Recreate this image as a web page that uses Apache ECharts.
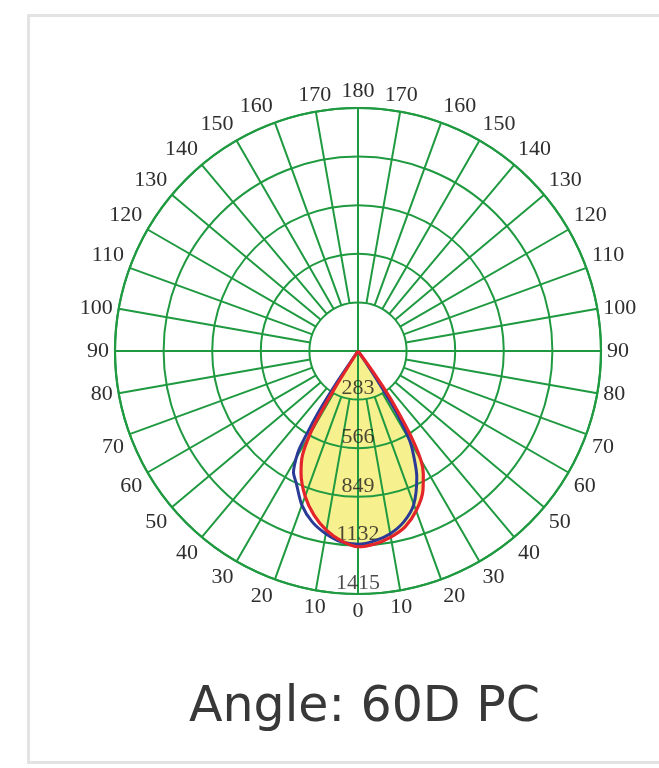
<!DOCTYPE html>
<html>
<head>
<meta charset="utf-8">
<script src="https://cdn.jsdelivr.net/npm/echarts@6/dist/echarts.min.js"></script>
<style>
html,body{margin:0;padding:0;background:#fff;overflow:hidden;}
#frame{position:absolute;left:27px;top:14px;width:720px;height:750px;border:3px solid #e3e3e3;box-sizing:border-box;}
#chart{position:absolute;left:0;top:0;width:659px;height:768px;}
</style>
</head>
<body>
<div id="frame"></div>
<div id="chart"></div>
<script>
// Tick values of the intensity rings (cd)
const ringValues = [283, 566, 849, 1132, 1415];
// Red curve (C0-C180): angle in degrees (negative = right of nadir), intensity in cd
const redAngles = [-37, -36, -35, -34, -32, -30, -28, -25, -20, -15, -10, -5, 0, 5, 10, 15, 20, 25, 28, 30, 31, 32, 33];
const redValues = [0, 120, 250, 370, 570, 730, 810, 895, 990, 1060, 1100, 1128, 1140, 1110, 1060, 990, 900, 785, 690, 560, 430, 250, 0];
// Blue curve (C90-C270)
const blueAngles = [-35, -34, -33, -32, -30, -28, -25, -20, -15, -10, -5, 0, 5, 10, 15, 20, 25, 28, 30, 31, 32, 33, 34, 35];
const blueValues = [0, 100, 250, 420, 600, 690, 810, 950, 1030, 1080, 1110, 1125, 1115, 1080, 1030, 955, 850, 800, 720, 660, 530, 400, 220, 0];
const titleText = 'Angle: 60D PC';

const toAxisAngle = a => (a < 0 ? 360 + a : a);
const redData = redAngles.map((a, i) => [redValues[i], toAxisAngle(a)]);
const blueData = blueAngles.map((a, i) => [blueValues[i], toAxisAngle(a)]);
const labelData = ringValues.map(v => [v, 0]);

const GREEN = '#1f9a40';
const CENTER = [358, 351];
const R = 243;
const INNER = R * ringValues[0] / ringValues[ringValues.length - 1];
const serif = '"Liberation Serif", "DejaVu Serif", serif';

const chart = echarts.init(document.getElementById('chart'), null, {renderer: 'canvas'});
chart.setOption({
  backgroundColor: 'transparent',
  animation: false,
  title: {
    text: titleText,
    left: 184, top: 679,
    textStyle: {fontFamily: '"DejaVu Sans", sans-serif', fontSize: 49, fontWeight: 'normal', color: '#383838'}
  },
  polar: [
    {center: CENTER, radius: [0, R]},
    {center: CENTER, radius: [INNER, R]}
  ],
  angleAxis: [
    {
      polarIndex: 0, type: 'value', min: 0, max: 360, interval: 90,
      startAngle: 270, clockwise: true,
      axisLine: {show: true, lineStyle: {color: GREEN, width: 2.2}},
      axisTick: {show: false}, axisLabel: {show: false},
      splitLine: {show: true, lineStyle: {color: GREEN, width: 2}}
    },
    {
      polarIndex: 1, type: 'value', min: 0, max: 360, interval: 10,
      startAngle: 270, clockwise: true,
      axisLine: {show: false}, axisTick: {show: false},
      axisLabel: {
        show: true, margin: 6, fontFamily: serif, fontSize: 22, color: '#2e2e2e',
        formatter: v => (v <= 180 ? String(v) : String(360 - v))
      },
      splitLine: {show: true, lineStyle: {color: GREEN, width: 2}}
    }
  ],
  radiusAxis: [
    {
      polarIndex: 0, type: 'value', min: 0, max: ringValues[ringValues.length - 1], interval: ringValues[0],
      axisLine: {show: false}, axisTick: {show: false}, axisLabel: {show: false},
      splitLine: {show: true, lineStyle: {color: GREEN, width: 2}}
    },
    {
      polarIndex: 1, type: 'value', min: 0, max: 1, show: false,
      axisLine: {show: false}, axisTick: {show: false}, axisLabel: {show: false}, splitLine: {show: false}
    }
  ],
  series: [
    {
      type: 'line', coordinateSystem: 'polar', polarIndex: 0, z: -1,
      data: redData, smooth: 0.3, symbol: 'none',
      lineStyle: {width: 0, opacity: 0},
      areaStyle: {color: '#f7f08e', opacity: 1}
    },
    {
      type: 'line', coordinateSystem: 'polar', polarIndex: 0,
      data: blueData, smooth: 0.3, symbol: 'none',
      lineStyle: {color: '#2b3a96', width: 3}
    },
    {
      type: 'line', coordinateSystem: 'polar', polarIndex: 0,
      data: redData, smooth: 0.3, symbol: 'none',
      lineStyle: {color: '#e3252b', width: 3.2}
    },
    {
      type: 'scatter', coordinateSystem: 'polar', polarIndex: 0,
      data: labelData, symbolSize: 0, silent: true,
      label: {
        show: true, position: 'top', distance: 0,
        formatter: p => String(p.value[0]),
        fontFamily: serif, fontSize: 22, color: '#1e1e1e'
      }
    }
  ]
});
</script>
</body>
</html>
